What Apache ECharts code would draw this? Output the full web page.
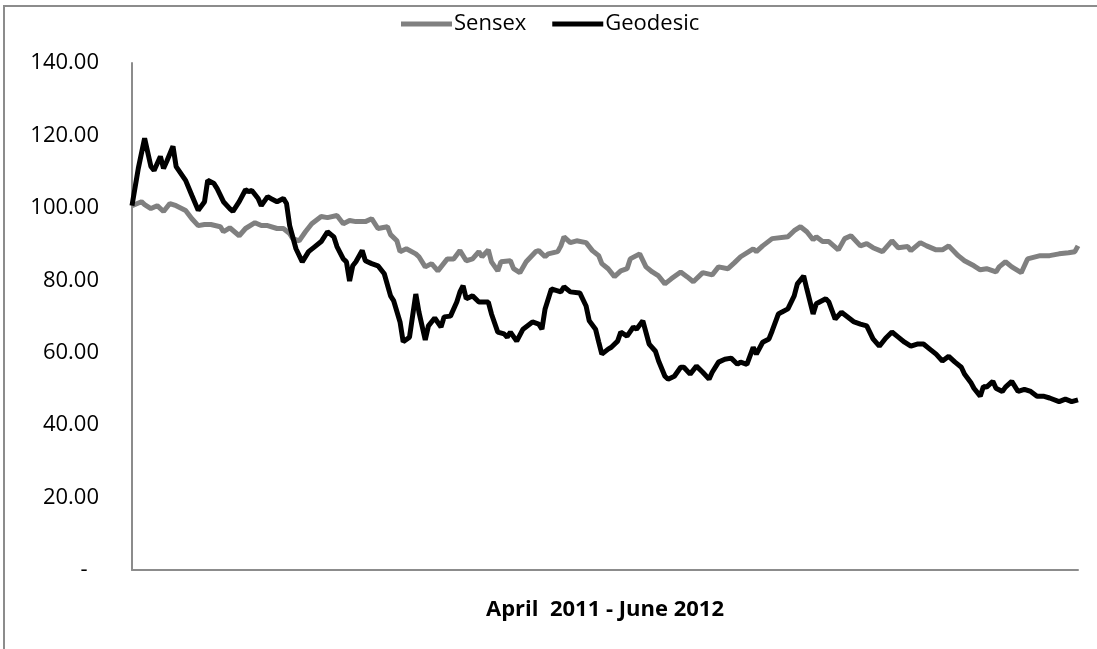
<!DOCTYPE html>
<html>
<head>
<meta charset="utf-8">
<script src="https://cdn.jsdelivr.net/npm/echarts@6/dist/echarts.min.js"></script>
<style>
  html, body { margin: 0; padding: 0; background: #fff; }
  #line { width: 1097px; height: 649px; }
</style>
</head>
<body>
<div id="line"></div>
<script>
// trading day index (0..300) and index level, April 2011 - June 2012
var sensexDay = [0, 3, 4, 6, 8, 10, 12, 14, 17, 19, 21, 23, 25, 28, 29, 31, 34, 36, 39, 41, 43, 46, 48, 50, 51, 53, 55, 57, 60, 62, 65, 67, 69, 71, 74, 76, 78, 81, 82, 84, 85, 87, 90, 91, 93, 95, 97, 100, 102, 104, 106, 108, 110, 111, 113, 114, 116, 117, 120, 121, 123, 125, 128, 129, 131, 132, 135, 136, 137, 139, 141, 144, 146, 148, 149, 151, 153, 155, 157, 158, 161, 163, 165, 167, 169, 171, 174, 176, 178, 181, 184, 186, 189, 191, 193, 197, 198, 200, 203, 208, 210, 212, 214, 216, 217, 219, 221, 224, 226, 228, 231, 233, 235, 238, 241, 243, 246, 247, 250, 252, 255, 257, 259, 262, 264, 267, 269, 271, 274, 275, 277, 279, 282, 284, 288, 291, 294, 297, 299, 300];
var sensexVal = [100.6, 101.7, 100.9, 99.8, 100.6, 99, 101.2, 100.6, 99.3, 97, 95.1, 95.4, 95.4, 94.8, 93.4, 94.5, 92.3, 94.3, 95.9, 95.1, 95.1, 94.3, 94.3, 92.9, 91.5, 90.9, 93.4, 95.6, 97.6, 97.3, 97.9, 95.6, 96.5, 96.2, 96.2, 97, 94.3, 94.8, 92.6, 90.9, 87.9, 88.7, 87.3, 86.5, 83.7, 84.6, 82.6, 85.9, 85.9, 88.2, 85.4, 85.9, 87.9, 86.5, 88.4, 85.1, 82.6, 85.1, 85.4, 83.2, 82.1, 85.1, 87.9, 88.2, 86.5, 87.3, 87.9, 89.5, 92, 90.4, 90.9, 90.4, 88.2, 86.8, 84.6, 83.2, 81, 82.6, 83.2, 85.9, 87.3, 83.7, 82.3, 81.2, 79, 80.4, 82.3, 81, 79.6, 82.1, 81.5, 83.7, 83.2, 84.8, 86.5, 88.7, 87.9, 89.5, 91.5, 92, 93.7, 94.8, 93.4, 91.2, 92, 90.7, 90.7, 88.4, 91.5, 92.3, 89.5, 90.1, 89, 87.9, 90.9, 89, 89.3, 88.2, 90.4, 89.5, 88.4, 88.4, 89.5, 86.8, 85.4, 84, 82.9, 83.2, 82.3, 83.7, 85.1, 83.7, 82.1, 85.9, 86.8, 86.8, 87.3, 87.6, 87.9, 89.5];

var geoDay = [0, 2, 4, 6, 7, 9, 10, 11, 13, 14, 17, 19, 21, 23, 24, 26, 27, 29, 31, 32, 34, 36, 37, 38, 40, 41, 43, 44, 46, 48, 49, 50, 52, 54, 56, 58, 60, 62, 64, 65, 67, 68, 69, 70, 71, 73, 74, 76, 78, 80, 82, 83, 85, 86, 88, 90, 91, 93, 94, 96, 98, 99, 101, 103, 104, 105, 106, 108, 110, 113, 114, 116, 118, 119, 120, 122, 124, 127, 129, 130, 131, 133, 135, 136, 137, 139, 142, 144, 145, 147, 148, 149, 151, 152, 154, 155, 157, 159, 160, 162, 164, 166, 167, 169, 170, 172, 174, 175, 177, 179, 181, 183, 184, 186, 188, 190, 192, 193, 195, 197, 198, 200, 202, 203, 205, 206, 208, 210, 211, 213, 214, 216, 217, 220, 221, 223, 225, 229, 231, 233, 235, 237, 239, 241, 243, 245, 247, 249, 251, 253, 255, 257, 259, 261, 263, 264, 266, 267, 269, 270, 271, 273, 274, 276, 277, 279, 281, 283, 285, 287, 289, 291, 294, 296, 298, 300];
var geoVal = [100.6, 110.9, 119.2, 111.4, 110.3, 114.2, 110.9, 112.8, 117, 111.4, 107.6, 103.4, 99.3, 101.7, 107.6, 106.7, 105.3, 101.7, 99.8, 99, 101.7, 105, 104.5, 104.8, 102.6, 100.6, 103.1, 102.6, 101.7, 102.6, 101.2, 95.1, 88.7, 85.1, 87.9, 89.3, 90.7, 93.4, 92, 89.3, 85.9, 85.1, 79.8, 84, 85.1, 88.2, 85.4, 84.6, 84, 81.8, 75.7, 74.3, 68.5, 63, 64.3, 76.2, 71.2, 63.5, 67.4, 69.6, 67.1, 69.9, 70.1, 74, 76.8, 78.5, 74.9, 75.7, 74, 74, 70.7, 65.7, 65.2, 64.3, 65.7, 63.2, 66.5, 68.5, 67.9, 66.5, 72.1, 77.6, 77.1, 76.8, 78.2, 76.8, 76.5, 72.9, 68.8, 66.5, 63, 59.6, 61, 61.5, 63.2, 65.7, 64.6, 67.1, 66.5, 68.8, 62.4, 60.4, 57.7, 53.5, 52.7, 53.5, 56, 56, 54.1, 56.3, 54.6, 52.7, 54.6, 57.4, 58.2, 58.5, 56.8, 57.4, 56.8, 61.5, 59.6, 62.9, 63.8, 66, 70.7, 71.2, 72.1, 75.7, 79, 81.2, 77.6, 70.7, 73.5, 74.9, 74, 69.3, 71.2, 68.5, 67.9, 67.4, 63.8, 61.8, 64, 65.7, 64.3, 62.9, 61.8, 62.4, 62.4, 61, 59.6, 57.7, 59, 57.4, 56, 54.1, 51.8, 50.2, 48, 50.7, 50.5, 52.1, 50.2, 49.3, 50.5, 52.1, 49.3, 49.9, 49.3, 48, 48, 47.5, 46.5, 47.2, 46.5, 47];

var seriesNames = ["Sensex", "Geodesic"];
var yTicks = [0, 20, 40, 60, 80, 100, 120, 140];
var xTitle = "April  2011 - June 2012";

function pairs(xs, ys) {
  return xs.map(function(d, i) { return [d, ys[i]]; });
}

var font = "'Open Sans', 'Noto Sans', sans-serif";

var option = {
  animation: false,
  backgroundColor: "#ffffff",
  textStyle: { fontFamily: font, color: "#000" },
  graphic: [
    {
      type: "rect",
      shape: { x: 4, y: 6, width: 1200, height: 800 },
      style: { fill: "none", stroke: "#8c8c8c", lineWidth: 2 },
      silent: true
    }
  ],
  legend: {
    top: 8,
    left: 396,
    icon: "rect",
    itemWidth: 51,
    itemHeight: 5,
    itemGap: 26,
    textStyle: { fontFamily: font, fontSize: 22, color: "#000", padding: [0, 0, 0, -3] },
    data: seriesNames
  },
  grid: {
    left: 132,
    right: 19,
    top: 63,
    bottom: 79
  },
  xAxis: {
    type: "value",
    min: 0,
    max: 300,
    name: xTitle,
    nameLocation: "middle",
    nameGap: 29,
    nameTextStyle: { fontFamily: font, fontSize: 22, fontWeight: "bold", color: "#000" },
    axisLine: { show: true, lineStyle: { color: "#8c8c8c", width: 2 } },
    axisTick: { show: false },
    axisLabel: { show: false },
    splitLine: { show: false }
  },
  yAxis: {
    type: "value",
    min: yTicks[0],
    max: yTicks[yTicks.length - 1],
    interval: 20,
    axisLine: { show: true, lineStyle: { color: "#8c8c8c", width: 2 } },
    axisTick: { show: false },
    splitLine: { show: false },
    axisLabel: {
      margin: 33,
      fontFamily: font,
      fontSize: 22,
      color: "#000",
      formatter: function(v) {
        return v === 0 ? "-  " : v.toFixed(2);
      }
    }
  },
  series: [
    {
      name: seriesNames[0],
      type: "line",
      symbol: "none",
      color: "#808080",
      lineStyle: { color: "#808080", width: 5 },
      data: pairs(sensexDay, sensexVal)
    },
    {
      name: seriesNames[1],
      type: "line",
      symbol: "none",
      color: "#000000",
      lineStyle: { color: "#000000", width: 5 },
      data: pairs(geoDay, geoVal)
    }
  ]
};

var chart = echarts.init(document.getElementById("line"));
chart.setOption(option);
</script>
</body>
</html>
